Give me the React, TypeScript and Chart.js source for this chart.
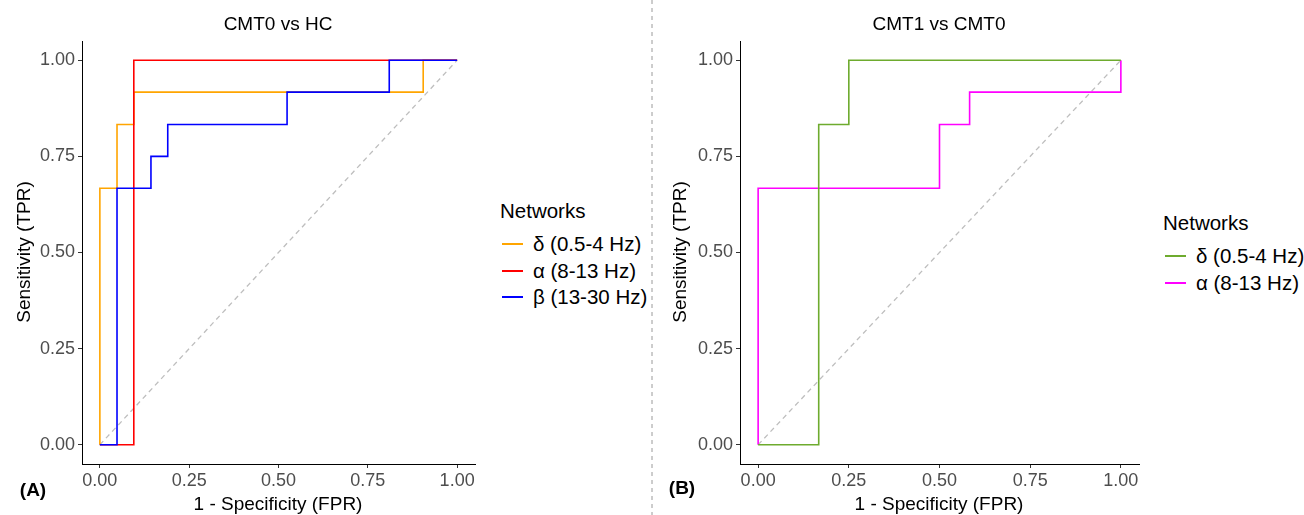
import React, { useEffect, useRef } from "react";
import { Chart, registerables } from "chart.js";

Chart.register(...registerables);

// ---------- data ----------
const tickValues = [0, 0.25, 0.5, 0.75, 1];
const tickLabels = ["0.00", "0.25", "0.50", "0.75", "1.00"];

const panelATitle = "CMT0 vs HC";
const panelBTitle = "CMT1 vs CMT0";
const xAxisTitle = "1 - Specificity (FPR)";
const yAxisTitle = "Sensitivity (TPR)";
const legendTitle = "Networks";
const panelALabel = "(A)";
const panelBLabel = "(B)";

const deltaLabel = "δ (0.5-4 Hz)";
const alphaLabel = "α (8-13 Hz)";
const betaLabel = "β (13-30 Hz)";

// Panel A: CMT0 vs HC (ROC corner points, FPR / TPR)
const aDeltaFpr = [0, 0, 0.048, 0.095, 0.905, 1];
const aDeltaTpr = [0, 0.667, 0.833, 0.917, 1, 1];
const aAlphaFpr = [0, 0.095, 1];
const aAlphaTpr = [0, 1, 1];
const aBetaFpr = [0, 0.048, 0.143, 0.19, 0.524, 0.81, 1];
const aBetaTpr = [0, 0.667, 0.75, 0.833, 0.917, 1, 1];

// Panel B: CMT1 vs CMT0
const bDeltaFpr = [0, 0.167, 0.25, 1];
const bDeltaTpr = [0, 0.833, 1, 1];
const bAlphaFpr = [0, 0, 0.5, 0.583, 1];
const bAlphaTpr = [0, 0.667, 0.833, 0.917, 1];

// chance diagonal
const chanceFpr = [0, 1];
const chanceTpr = [0, 1];

// ---------- styles ----------
const FONT = "'Liberation Sans', Arial, Helvetica, sans-serif";

type Series = { label: string; fpr: number[]; tpr: number[]; color: string; order: number };

const panelASeries: Series[] = [
  { label: deltaLabel, fpr: aDeltaFpr, tpr: aDeltaTpr, color: "#FFA500", order: 3 },
  { label: alphaLabel, fpr: aAlphaFpr, tpr: aAlphaTpr, color: "#FF0000", order: 2 },
  { label: betaLabel, fpr: aBetaFpr, tpr: aBetaTpr, color: "#0000FF", order: 1 },
];
const panelBSeries: Series[] = [
  { label: deltaLabel, fpr: bDeltaFpr, tpr: bDeltaTpr, color: "#6EAB2E", order: 1 },
  { label: alphaLabel, fpr: bAlphaFpr, tpr: bAlphaTpr, color: "#FF00FF", order: 2 },
];

type PanelProps = {
  series: Series[];
  left: number;
  width: number;
  yWidth: number;
  padRight: number;
};

function RocPanel({ series, left, width, yWidth, padRight }: PanelProps) {
  const ref = useRef<HTMLCanvasElement | null>(null);
  useEffect(() => {
    const canvas = ref.current;
    if (!canvas) return;
    const datasets: any[] = series.map((s) => ({
      label: s.label,
      data: s.fpr.map((x, i) => ({ x, y: s.tpr[i] })),
      borderColor: s.color,
      backgroundColor: s.color,
      borderWidth: 1.6,
      pointRadius: 0,
      stepped: "before",
      fill: false,
      order: s.order,
    }));
    datasets.push({
      label: "chance",
      data: chanceFpr.map((x, i) => ({ x, y: chanceTpr[i] })),
      borderColor: "#BEBEBE",
      borderWidth: 1.3,
      borderDash: [5, 4],
      pointRadius: 0,
      fill: false,
      order: 10,
    });
    const tickFont = { family: FONT, size: 18 };
    const chart = new Chart(canvas, {
      type: "line",
      data: { datasets },
      options: {
        animation: false,
        responsive: false,
        maintainAspectRatio: false,
        events: [],
        layout: { padding: { top: 41, right: padRight, left: 0, bottom: 0 } },
        plugins: {
          legend: { display: false },
          tooltip: { enabled: false },
          title: { display: false },
        },
        scales: {
          x: {
            type: "linear",
            min: -0.05,
            max: 1.05,
            afterBuildTicks: (s: any) => {
              s.ticks = tickValues.map((v) => ({ value: v }));
            },
            afterFit: (s: any) => {
              s.height = 51;
            },
            ticks: {
              autoSkip: false,
              maxRotation: 0,
              padding: 2,
              color: "#4D4D4D",
              font: tickFont,
              callback: (_v: any, i: number) => tickLabels[i],
            },
            grid: { drawOnChartArea: false, drawTicks: true, tickLength: 4, color: "#333333" },
            border: { display: true, color: "#000000", width: 1 },
          },
          y: {
            type: "linear",
            min: -0.05,
            max: 1.05,
            afterBuildTicks: (s: any) => {
              s.ticks = tickValues.map((v) => ({ value: v }));
            },
            afterFit: (s: any) => {
              s.width = yWidth;
            },
            ticks: {
              autoSkip: false,
              padding: 3,
              color: "#4D4D4D",
              font: tickFont,
              callback: (_v: any, i: number) => tickLabels[i],
            },
            grid: { drawOnChartArea: false, drawTicks: true, tickLength: 4, color: "#333333" },
            border: { display: true, color: "#000000", width: 1 },
          },
        },
      } as any,
    });
    return () => chart.destroy();
  }, [series, yWidth, padRight]);
  return (
    <canvas
      ref={ref}
      width={width}
      height={515}
      style={{ position: "absolute", left, top: 0, width, height: 515 }}
    />
  );
}

function Text({ x, y, children, size, bold, color, rotate, align }: any) {
  const tx = align === "left" ? "0" : "-50%";
  return (
    <div
      style={{
        position: "absolute",
        left: x,
        top: y,
        transform: `translate(${tx}, -50%)${rotate ? " rotate(-90deg)" : ""}`,
        transformOrigin: align === "left" ? "left center" : "center center",
        fontFamily: FONT,
        fontSize: size,
        fontWeight: bold ? "bold" : "normal",
        color: color || "#000",
        whiteSpace: "nowrap",
        lineHeight: 1,
      }}
    >
      {children}
    </div>
  );
}

function Legend({ x, y, series }: { x: number; y: number; series: Series[] }) {
  return (
    <>
      <Text x={x} y={y} size={20.5} align="left">
        {legendTitle}
      </Text>
      {series.map((s, i) => {
        const rowY = Math.round(y + 32 + i * 26.5);
        return (
          <React.Fragment key={s.label}>
            <div
              style={{
                position: "absolute",
                left: x + 2,
                top: rowY,
                width: 21,
                height: 2,
                background: s.color,
              }}
            />
            <Text x={x + 33} y={rowY + 1} size={20.5} align="left">
              {s.label}
            </Text>
          </React.Fragment>
        );
      })}
    </>
  );
}

export default function App() {
  return (
    <div
      style={{
        position: "absolute",
        left: 0,
        top: 0,
        width: 1304,
        height: 515,
        background: "#fff",
        overflow: "hidden",
      }}
    >
      <RocPanel series={panelASeries} left={0} width={480} yWidth={82} padRight={5} />
      <RocPanel series={panelBSeries} left={660} width={485} yWidth={80} padRight={6} />

      <Text x={278} y={23} size={19}>{panelATitle}</Text>
      <Text x={939} y={23} size={19}>{panelBTitle}</Text>

      <Text x={278} y={503} size={19}>{xAxisTitle}</Text>
      <Text x={939} y={503} size={19}>{xAxisTitle}</Text>

      <Text x={23} y={252} size={19} rotate>{yAxisTitle}</Text>
      <Text x={679} y={252} size={19} rotate>{yAxisTitle}</Text>

      <Legend x={500} y={211} series={panelASeries} />
      <Legend x={1163} y={223} series={panelBSeries} />

      <Text x={33} y={489} size={19} bold>{panelALabel}</Text>
      <Text x={682} y={487} size={19} bold>{panelBLabel}</Text>

      <svg
        width={4}
        height={515}
        style={{ position: "absolute", left: 650, top: 0 }}
      >
        <line x1={2} y1={0} x2={2} y2={515} stroke="#9A9A9A" strokeWidth={1} strokeDasharray="4,4" />
      </svg>
    </div>
  );
}
